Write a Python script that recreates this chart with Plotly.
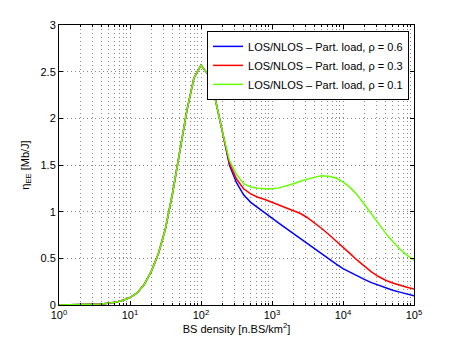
import plotly.graph_objects as go

# BS density samples (n.BS/km^2) where the three curves coincide
x_shared = [1, 1.585, 2.512, 3.981, 6.31, 7.943, 10, 12.59, 15.85, 19.95, 25.12, 31.62,
            39.81, 50.12, 63.1, 79.43, 100, 125.9, 158.5, 199.5]
y_shared = [0.0, 0.001, 0.003, 0.01, 0.03, 0.05, 0.08, 0.13, 0.22, 0.36, 0.55, 0.82,
            1.2, 1.62, 2.08, 2.43, 2.57, 2.47, 2.21, 1.86]

# BS density samples where the curves separate
x_tail = [251.2, 316.2, 398.1, 501.2, 631.0, 794.3, 1000, 1259, 1585, 1995, 2512, 3162,
          3981, 5012, 6310, 7943, 10000, 12590, 15850, 19950, 25120, 31620, 39810,
          50120, 63100, 79430, 100000]
y_tail_06 = [1.50, 1.31, 1.18, 1.10, 1.04, 0.98, 0.93, 0.875, 0.82, 0.765, 0.71, 0.655,
             0.60, 0.545, 0.49, 0.44, 0.39, 0.35, 0.31, 0.275, 0.24, 0.21, 0.183,
             0.158, 0.138, 0.118, 0.10]
y_tail_03 = [1.52, 1.35, 1.245, 1.19, 1.155, 1.13, 1.10, 1.07, 1.04, 1.01, 0.98, 0.935,
             0.88, 0.82, 0.755, 0.69, 0.62, 0.55, 0.48, 0.415, 0.355, 0.305, 0.265,
             0.235, 0.21, 0.19, 0.17]
y_tail_01 = [1.55, 1.40, 1.30, 1.265, 1.25, 1.245, 1.245, 1.255, 1.275, 1.30, 1.325, 1.35,
             1.37, 1.385, 1.38, 1.36, 1.32, 1.26, 1.18, 1.08, 0.975, 0.87, 0.77,
             0.68, 0.60, 0.535, 0.48]

series_names = ["LOS/NLOS – Part. load, ρ = 0.6",
                "LOS/NLOS – Part. load, ρ = 0.3",
                "LOS/NLOS – Part. load, ρ = 0.1"]
series_colors = ["#0000ff", "#ff0000", "#66ff00"]
series_tails = [y_tail_06, y_tail_03, y_tail_01]

x_tickvals = [1, 10, 100, 1000, 10000, 100000]
x_ticktext = ["10<sup>0</sup>", "10<sup>1</sup>", "10<sup>2</sup>",
              "10<sup>3</sup>", "10<sup>4</sup>", "10<sup>5</sup>"]
y_tickvals = [0, 0.5, 1, 1.5, 2, 2.5, 3]
y_ticktext = ["0", "0.5", "1", "1.5", "2", "2.5", "3"]

fig = go.Figure()
for name, color, tail in zip(series_names, series_colors, series_tails):
    fig.add_trace(go.Scatter(
        x=x_shared + x_tail, y=y_shared + tail, mode="lines", name=name,
        line=dict(color=color, width=1.5)))

font = dict(family="Liberation Sans, Arial, Helvetica, sans-serif", size=11, color="black")
gridc = "#8a8a8a"
dots = "1px,3px"

# the page body has an 8px margin, so the figure is 8px smaller than the window
fig.update_layout(
    width=449, height=336,
    margin=dict(l=51, r=43, t=17, b=39, autoexpand=False),
    paper_bgcolor="white", plot_bgcolor="white",
    font=font,
    showlegend=True,
    legend=dict(x=0.986, y=0.979, xanchor="right", yanchor="top",
                bgcolor="white", bordercolor="black", borderwidth=1,
                font=dict(size=11), tracegroupgap=0, itemwidth=30,
                traceorder="normal"),
)
fig.update_xaxes(
    type="log", range=[0, 5],
    tickvals=x_tickvals, ticktext=x_ticktext,
    ticks="inside", ticklen=4, tickcolor="black",
    showline=True, linecolor="black", linewidth=1, mirror="allticks",
    showgrid=True, gridcolor=gridc, griddash=dots, gridwidth=1,
    minor=dict(dtick="D1", ticks="inside", ticklen=2, tickcolor="black",
               showgrid=True, gridcolor=gridc, griddash=dots, gridwidth=1),
    zeroline=False, automargin=False,
    title=dict(text="BS density [n.BS/km<sup>2</sup>]", standoff=4, font=dict(size=11)),
)
fig.update_yaxes(
    range=[0, 3],
    tickvals=y_tickvals, ticktext=y_ticktext,
    ticks="inside", ticklen=4, tickcolor="black",
    showline=True, linecolor="black", linewidth=1, mirror="allticks",
    showgrid=True, gridcolor=gridc, griddash=dots, gridwidth=1,
    zeroline=False, automargin=False,
    title=dict(text="η<sub>EE</sub> [Mb/J]", standoff=8, font=dict(size=11)),
)

fig.write_html("out.html")
